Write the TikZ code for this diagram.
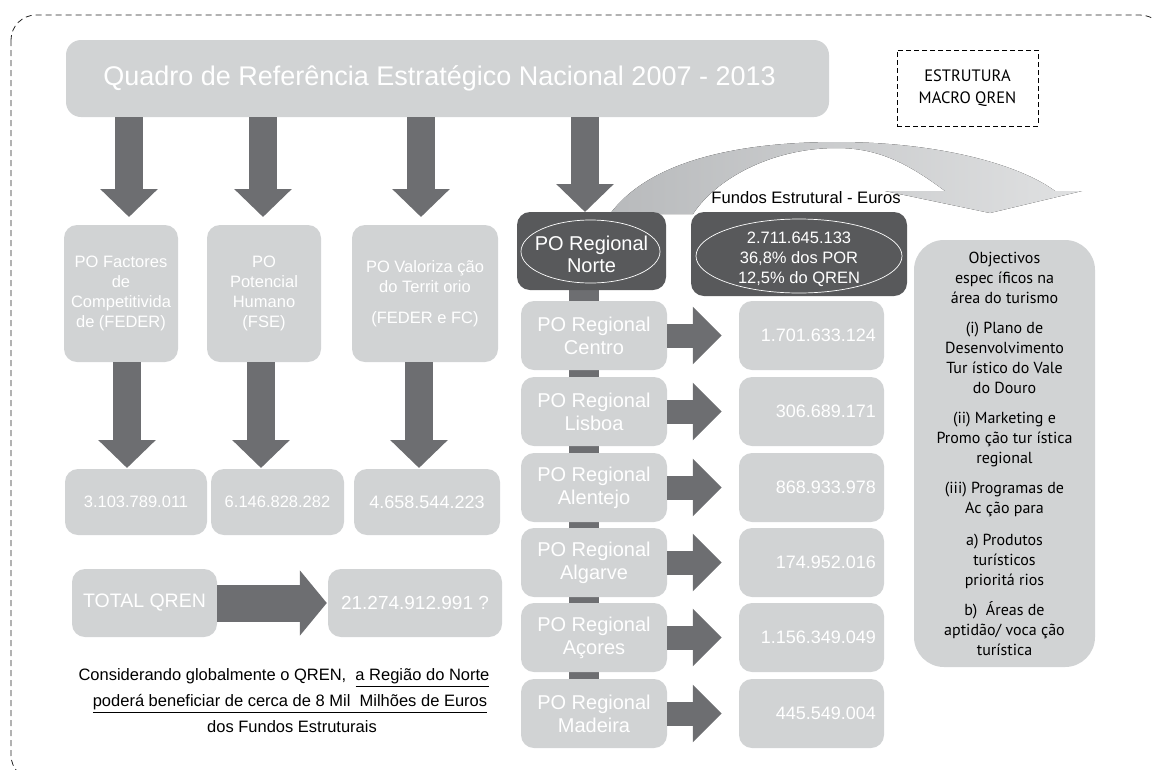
\documentclass[tikz,border=0pt]{standalone}
\usepackage{fontspec}
\setmainfont{Liberation Sans}
\newfontfamily\myr{PT Sans}
\usetikzlibrary{arrows.meta,backgrounds,calc}
\definecolor{lightbox}{HTML}{D1D3D4}
\definecolor{darkarrow}{HTML}{6D6E71}
\definecolor{darkbox}{HTML}{58595B}
\definecolor{curveA}{HTML}{B8BABC}
\definecolor{curveB}{HTML}{E0E1E2}
\newcommand{\fsz}[2]{\fontsize{#1}{#2}\selectfont}
\begin{document}
\begin{tikzpicture}[x=1pt,y=-1pt,
  lbox/.style={fill=lightbox, rounded corners=13pt, text=white, align=center, inner sep=0pt},
  dbox/.style={fill=darkbox, rounded corners=13pt, text=white, align=center, inner sep=0pt},
  fatdown/.style={draw=darkarrow, fill=darkarrow, line width=28pt, -{Triangle[width=56pt,length=28pt]}},
  fatright/.style={draw=darkarrow, fill=darkarrow, line width=24pt, -{Triangle[width=56pt,length=29pt]}},
  fattotal/.style={draw=darkarrow, fill=darkarrow, line width=37pt, -{Triangle[width=64pt,length=27pt]}},
  border/.style={draw=black!85, line width=0.8pt, dash pattern=on 6pt off 4pt, rounded corners=25pt},
  ovalline/.style={draw=white, line width=0.7pt},
  valbox/.style={lbox, minimum width=145pt, minimum height=69pt, text width=129pt, align=right, font=\fsz{18}{20}},
  regbox/.style={lbox, minimum width=146pt, minimum height=69pt, font=\fsz{20}{23}}
]
\useasboundingbox (0,0) rectangle (1153,769);
\begin{scope}
  \clip (0,0) rectangle (1153,769);
  \draw[border] (11,15) rectangle (1165,780);
\end{scope}

% curved arrow
\fill[left color=curveA, right color=curveB, shading angle=90]
  (610,214) .. controls (650,160) and (740,142) .. (837,142)
  .. controls (940,142) and (1020,165) .. (1055,191)
  -- (1082,191) -- (990,213) -- (885,191) -- (945,191)
  .. controls (910,165) and (880,148) .. (837,148)
  .. controls (770,148) and (715,180) .. (693,214) -- cycle;

% title
\node[lbox, rounded corners=15pt, minimum width=763pt, minimum height=77pt, font=\fsz{27}{32}] (t) at (447.5,78.5) {\hspace*{-16pt}Quadro de Referência Estratégico Nacional 2007 - 2013};

\node[draw=black, line width=0.7pt, dash pattern=on 5pt off 3pt, minimum width=141pt, minimum height=76pt, align=center, font=\myr\fsz{16.5}{22}] (es) at (967.5,88) {ESTRUTURA\\MACRO QREN};

% left programmes
\node[lbox, minimum width=114pt, minimum height=137pt, font=\fsz{16.5}{20}] (b1) at (121,293.5) {PO Factores\\de\\Competitivida\\de (FEDER)};
\node[lbox, minimum width=114pt, minimum height=137pt, font=\fsz{16.5}{20}] (b2) at (264,293.5) {PO\\Potencial\\Humano\\(FSE)};
\node[lbox, minimum width=146pt, minimum height=137pt, font=\fsz{16.5}{20}] (b3) at (425,293.5) {PO Valoriza ção\\do Territ orio\\[11pt](FEDER e FC)};

\node[lbox, minimum width=142pt, minimum height=66pt, font=\fsz{16.5}{20}] (n1) at (136,502) {3.103.789.011};
\node[lbox, minimum width=133pt, minimum height=66pt, font=\fsz{16.5}{20}] (n2) at (277.5,502) {6.146.828.282};
\node[lbox, minimum width=146pt, minimum height=66pt, font=\fsz{18}{20}] (n3) at (427,502) {4.658.544.223};

\node[lbox, minimum width=145pt, minimum height=68pt, font=\fsz{19.5}{22}] (tq) at (144.5,603) {TOTAL QREN};
\node[lbox, minimum width=174pt, minimum height=68pt, font=\fsz{19}{22}] (tv) at (415,603) {21.274.912.991 ?};

\node[align=center, font=\fsz{16.5}{26}] (note) at (284,701) {Considerando globalmente o QREN,\ \ \underline{a Região do Norte}\\\hspace*{12pt}\underline{poderá beneficiar de cerca de 8 Mil\ \ Milhões de Euros}\\\hspace*{16pt}dos Fundos Estruturais};

% regional column
\node[dbox, minimum width=149pt, minimum height=78pt, font=\fsz{20}{22}] (norte) at (591.5,251) {\raisebox{-11pt}[0pt][0pt]{\begin{tabular}{@{}c@{}}PO Regional\\Norte\end{tabular}}};
\draw[ovalline] (590.5,251.5) ellipse [x radius=69.5, y radius=31.5];
\node[dbox, minimum width=216pt, minimum height=84pt, font=\fsz{16.5}{20}] (fundos) at (799,254) {\raisebox{-9.5pt}[0pt][0pt]{\begin{tabular}{@{}c@{}}2.711.645.133\\36,8\% dos POR\\12,5\% do QREN\end{tabular}}};
\draw[ovalline] (799,256) ellipse [x radius=103, y radius=37];
\node[font=\fsz{16.6}{20}] (fl) at (806,198) {Fundos Estrutural - Euros};

\node[regbox] (r1) at (594,335.5) {PO Regional\\Centro};
\node[regbox] (r2) at (594,411.5) {PO Regional\\Lisboa};
\node[regbox] (r3) at (594,487.5) {PO Regional\\Alentejo};
\node[regbox] (r4) at (594,562.5) {PO Regional\\Algarve};
\node[regbox] (r5) at (594,637.5) {PO Regional\\Açores};
\node[regbox] (r6) at (594,713.5) {PO Regional\\Madeira};

\node[valbox] (v1) at (811.5,335.5) {1.701.633.124};
\node[valbox] (v2) at (811.5,411.5) {306.689.171};
\node[valbox] (v3) at (811.5,487.5) {868.933.978};
\node[valbox] (v4) at (811.5,562.5) {174.952.016};
\node[valbox] (v5) at (811.5,637.5) {1.156.349.049};
\node[valbox] (v6) at (811.5,713.5) {445.549.004};

\node[fill=lightbox, rounded corners=30pt, minimum width=181pt, minimum height=427pt, align=center, inner sep=0pt, font=\myr\fsz{16}{20}] (obj) at (1004.5,453.5) {Objectivos\\espec íficos na\\área do turismo\\[10pt](i) Plano de\\Desenvolvimento\\Tur ístico do Vale\\do Douro\\[10pt](ii) Marketing e\\Promo ção tur ística\\regional\\[10pt](iii) Programas de\\Ac ção para\\[12pt]a) Produtos\\turísticos\\prioritá rios\\[10pt]b)\ \ Áreas de\\aptidão/ voca ção\\turística};

% connector bar behind regional boxes
\coordinate (bx) at (584,0);
\begin{scope}[on background layer]
  \draw[darkarrow, line width=30pt] (norte.south -| bx) -- (r6.north -| bx);
\end{scope}

% top arrows
\coordinate (a1) at (129,217);
\coordinate (a2) at (263,217);
\coordinate (a3) at (421,217);
\coordinate (a4) at (585,212);
\draw[fatdown] (t.south -| a1) -- (a1);
\draw[fatdown] (t.south -| a2) -- (a2);
\draw[fatdown] (t.south -| a3) -- (a3);
\draw[fatdown] (t.south -| a4) -- (a4);

% lower arrows
\coordinate (c1) at (127,468);
\coordinate (c2) at (261,468);
\coordinate (c3) at (419,468);
\draw[fatdown] (b1.south -| c1) -- (c1);
\draw[fatdown] (b2.south -| c2) -- (c2);
\draw[fatdown] (b3.south -| c3) -- (c3);

% right arrows
\foreach \i in {1,...,6}{
  \draw[fatright] (r\i.east) -- ([xshift=-17pt]v\i.west);
}
\draw[fattotal] (tq.east) -- ([xshift=-1pt]tv.west);
\end{tikzpicture}
\end{document}
